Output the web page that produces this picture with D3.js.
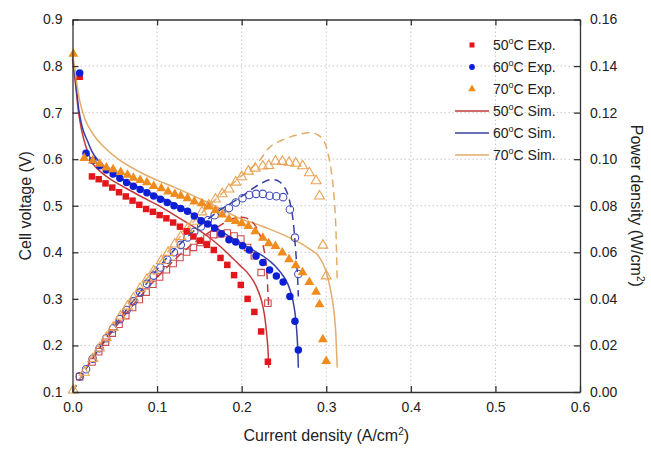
<!DOCTYPE html>
<html>
<head>
<meta charset="utf-8">
<script src="https://cdn.jsdelivr.net/npm/d3@7"></script>
<style>
  body { margin: 0; background: #fff; }
  text { font-family: "Liberation Sans", Arial, sans-serif; }
</style>
</head>
<body>
<div id="chart"></div>
<script>
// experimental data: current density (A/cm2), voltage (V), power (W/cm2)
const expI50 = [0.0085, 0.023, 0.031, 0.039, 0.047, 0.055, 0.063, 0.071, 0.079, 0.087, 0.095, 0.103, 0.111, 0.119, 0.127, 0.135, 0.143, 0.151, 0.159, 0.167, 0.175, 0.183, 0.191, 0.199, 0.207, 0.215, 0.223, 0.231];
const expV50 = [0.777, 0.563, 0.557, 0.548, 0.539, 0.529, 0.520, 0.511, 0.502, 0.493, 0.487, 0.480, 0.473, 0.464, 0.455, 0.445, 0.434, 0.425, 0.416, 0.405, 0.388, 0.373, 0.351, 0.330, 0.300, 0.272, 0.230, 0.165];
const expP50 = [0.0066, 0.0129, 0.0173, 0.0214, 0.0253, 0.0291, 0.0328, 0.0363, 0.0397, 0.0429, 0.0463, 0.0494, 0.0525, 0.0552, 0.0578, 0.0601, 0.0621, 0.0642, 0.0661, 0.0676, 0.0679, 0.0683, 0.0670, 0.0657, 0.0621, 0.0585, 0.0513, 0.0381];

const expI60 = [0.0085, 0.016, 0.024, 0.032, 0.040, 0.048, 0.056, 0.064, 0.072, 0.080, 0.088, 0.096, 0.104, 0.112, 0.120, 0.128, 0.136, 0.144, 0.152, 0.160, 0.168, 0.176, 0.185, 0.193, 0.201, 0.209, 0.217, 0.225, 0.233, 0.241, 0.249, 0.257, 0.263, 0.267];
const expV60 = [0.785, 0.613, 0.597, 0.586, 0.577, 0.568, 0.559, 0.550, 0.542, 0.535, 0.528, 0.521, 0.514, 0.507, 0.500, 0.494, 0.488, 0.478, 0.468, 0.461, 0.452, 0.440, 0.427, 0.422, 0.414, 0.405, 0.392, 0.378, 0.362, 0.349, 0.336, 0.305, 0.252, 0.190];
const expP60 = [0.0067, 0.0098, 0.0143, 0.0188, 0.0231, 0.0273, 0.0313, 0.0352, 0.0390, 0.0428, 0.0465, 0.0500, 0.0535, 0.0568, 0.0600, 0.0632, 0.0664, 0.0688, 0.0711, 0.0738, 0.0759, 0.0774, 0.0790, 0.0814, 0.0832, 0.0846, 0.0851, 0.0851, 0.0843, 0.0841, 0.0837, 0.0784, 0.0663, 0.0507];

const expI70 = [0.001, 0.014, 0.024, 0.032, 0.040, 0.048, 0.057, 0.065, 0.072, 0.080, 0.088, 0.096, 0.105, 0.113, 0.121, 0.128, 0.136, 0.144, 0.153, 0.161, 0.169, 0.177, 0.185, 0.193, 0.200, 0.208, 0.216, 0.225, 0.232, 0.240, 0.248, 0.256, 0.264, 0.272, 0.280, 0.288, 0.292, 0.296, 0.300];
const expV70 = [0.826, 0.602, 0.597, 0.590, 0.582, 0.578, 0.572, 0.566, 0.560, 0.555, 0.550, 0.542, 0.537, 0.530, 0.525, 0.521, 0.516, 0.509, 0.505, 0.498, 0.490, 0.481, 0.471, 0.467, 0.462, 0.456, 0.445, 0.431, 0.419, 0.413, 0.399, 0.385, 0.372, 0.357, 0.336, 0.315, 0.288, 0.213, 0.166];
const expP70 = [0.0008, 0.0084, 0.0143, 0.0189, 0.0233, 0.0277, 0.0326, 0.0368, 0.0403, 0.0444, 0.0484, 0.0520, 0.0564, 0.0599, 0.0635, 0.0667, 0.0702, 0.0733, 0.0773, 0.0802, 0.0828, 0.0851, 0.0871, 0.0901, 0.0924, 0.0948, 0.0961, 0.0970, 0.0972, 0.0991, 0.0990, 0.0986, 0.0982, 0.0971, 0.0941, 0.0907, 0.0841, 0.0630, 0.0498];

// simulation: polarization curves
const simI50 = [0, 0.003, 0.008, 0.013, 0.018, 0.025, 0.04, 0.054, 0.064, 0.08, 0.104, 0.125, 0.143, 0.16, 0.175, 0.19, 0.198, 0.206, 0.214, 0.22, 0.224, 0.227, 0.229, 0.231, 0.232];
const simV50 = [0.815, 0.77, 0.69, 0.645, 0.616, 0.588, 0.563, 0.547, 0.537, 0.521, 0.498, 0.475, 0.455, 0.434, 0.412, 0.386, 0.372, 0.358, 0.338, 0.315, 0.292, 0.265, 0.235, 0.195, 0.152];
const simI60 = [0, 0.003, 0.008, 0.013, 0.018, 0.025, 0.04, 0.054, 0.064, 0.08, 0.104, 0.125, 0.143, 0.165, 0.183, 0.2, 0.215, 0.226, 0.234, 0.242, 0.25, 0.255, 0.259, 0.262, 0.264, 0.266, 0.267];
const simV60 = [0.82, 0.78, 0.70, 0.66, 0.638, 0.61, 0.58, 0.562, 0.553, 0.538, 0.518, 0.50, 0.481, 0.458, 0.437, 0.419, 0.403, 0.391, 0.38, 0.366, 0.347, 0.33, 0.308, 0.283, 0.255, 0.205, 0.152];
const simI70 = [0, 0.003, 0.008, 0.013, 0.018, 0.025, 0.034, 0.054, 0.08, 0.1, 0.12, 0.14, 0.16, 0.18, 0.2, 0.21, 0.23, 0.25, 0.27, 0.282, 0.289, 0.294, 0.299, 0.303, 0.306, 0.309, 0.311, 0.312, 0.313];
const simV70 = [0.83, 0.79, 0.73, 0.695, 0.673, 0.652, 0.632, 0.60, 0.572, 0.555, 0.54, 0.524, 0.507, 0.489, 0.471, 0.465, 0.452, 0.437, 0.419, 0.405, 0.396, 0.383, 0.363, 0.337, 0.31, 0.275, 0.235, 0.195, 0.152];

// simulation: power curves
const simPI50 = [0, 0.02, 0.05, 0.08, 0.11, 0.14, 0.17, 0.19, 0.205, 0.215, 0.222, 0.227, 0.23, 0.231, 0.232];
const simP50 = [0, 0.0122, 0.0275, 0.041, 0.053, 0.063, 0.0705, 0.0745, 0.0748, 0.072, 0.067, 0.060, 0.050, 0.043, 0.036];
const simPI60 = [0, 0.02, 0.05, 0.08, 0.11, 0.14, 0.17, 0.2, 0.22, 0.234, 0.244, 0.252, 0.258, 0.261, 0.264, 0.266, 0.267];
const simP60 = [0, 0.0125, 0.0285, 0.043, 0.057, 0.068, 0.077, 0.084, 0.089, 0.0912, 0.0905, 0.087, 0.080, 0.073, 0.060, 0.050, 0.041];
const simPI70 = [0, 0.02, 0.05, 0.08, 0.11, 0.14, 0.17, 0.2, 0.22, 0.234, 0.25, 0.265, 0.28, 0.29, 0.297, 0.303, 0.307, 0.309, 0.311, 0.312, 0.313];
const simP70 = [0, 0.013, 0.030, 0.045, 0.059, 0.072, 0.083, 0.093, 0.099, 0.1054, 0.1085, 0.1104, 0.1114, 0.1105, 0.108, 0.101, 0.092, 0.085, 0.074, 0.062, 0.047];

const xTicks = [0, 0.1, 0.2, 0.3, 0.4, 0.5, 0.6];
const vTicks = [0.1, 0.2, 0.3, 0.4, 0.5, 0.6, 0.7, 0.8, 0.9];
const pTicks = [0, 0.02, 0.04, 0.06, 0.08, 0.10, 0.12, 0.14, 0.16];
const legendLabels = ["50", "60", "70"];

const margin = {top: 19.5, right: 71, bottom: 58, left: 72.5},
    W = 651, H = 450,
    width = W - margin.left - margin.right,
    height = H - margin.top - margin.bottom;

const svg = d3.select("#chart").append("svg")
    .attr("width", W).attr("height", H);
const g = svg.append("g").attr("transform", `translate(${margin.left},${margin.top})`);

const x = d3.scaleLinear().domain([0, 0.6]).range([0, width]);
const yV = d3.scaleLinear().domain([0.1, 0.9]).range([height, 0]);
const yP = d3.scaleLinear().domain([0, 0.16]).range([height, 0]);

// dotted grid
g.append("g").selectAll("line").data(xTicks.slice(1, -1)).join("line")
    .attr("x1", d => x(d)).attr("x2", d => x(d)).attr("y1", 0).attr("y2", height)
    .attr("stroke", "#c8c8c8").attr("stroke-dasharray", "1.5,2.5");
g.append("g").selectAll("line").data(vTicks.slice(1, -1)).join("line")
    .attr("y1", d => yV(d)).attr("y2", d => yV(d)).attr("x1", 0).attr("x2", width)
    .attr("stroke", "#c8c8c8").attr("stroke-dasharray", "1.5,2.5");

// colours
const colExp = ["#e3171b", "#0d1fd6", "#f08c1e"];
const colHol = ["#cf4a4e", "#4550b8", "#e9a254"];
const colSim = ["#c23a3a", "#363fa6", "#e2ad68"];

const lineV = d3.line().x(d => x(d[0])).y(d => yV(d[1])).curve(d3.curveCatmullRom.alpha(0.5));
const lineP = d3.line().x(d => x(d[0])).y(d => yP(d[1])).curve(d3.curveCatmullRom.alpha(0.5));

const simV = [d3.zip(simI50, simV50), d3.zip(simI60, simV60), d3.zip(simI70, simV70)];
const simP = [d3.zip(simPI50, simP50), d3.zip(simPI60, simP60), d3.zip(simPI70, simP70)];
const expV = [d3.zip(expI50, expV50), d3.zip(expI60, expV60), d3.zip(expI70, expV70)];
const expP = [d3.zip(expI50, expP50), d3.zip(expI60, expP60), d3.zip(expI70, expP70)];

const shapes = [d3.symbolSquare, d3.symbolCircle, d3.symbolTriangle];
const sizes = [42, 44, 42];

// simulation lines
simV.forEach((s, k) => {
    g.append("path").datum(s).attr("d", lineV)
        .attr("fill", "none").attr("stroke", colSim[k]).attr("stroke-width", 1.5);
});
simP.forEach((s, k) => {
    g.append("path").datum(s).attr("d", lineP)
        .attr("fill", "none").attr("stroke", colSim[k]).attr("stroke-width", 1.5)
        .attr("stroke-dasharray", "8,5");
});

// experimental markers: hollow for power, filled for voltage
expP.forEach((s, k) => {
    g.append("g").selectAll("path").data(s).join("path")
        .attr("transform", d => `translate(${x(d[0])},${yP(d[1])})`)
        .attr("d", d3.symbol().type(shapes[k]).size(sizes[k]))
        .attr("fill", "none").attr("stroke", colHol[k]).attr("stroke-width", 1.1);
});
expV.forEach((s, k) => {
    g.append("g").selectAll("path").data(s).join("path")
        .attr("transform", d => `translate(${x(d[0])},${yV(d[1])})`)
        .attr("d", d3.symbol().type(shapes[k]).size(sizes[k]))
        .attr("fill", colExp[k]);
});

// axes, ticks pointing inward
const axisCol = "#333";
const gx = g.append("g").attr("transform", `translate(0,${height})`)
    .call(d3.axisBottom(x).tickValues(xTicks).tickFormat(d3.format(".1f")).tickSizeInner(-6).tickSizeOuter(0).tickPadding(10));
const gxTop = g.append("g")
    .call(d3.axisTop(x).tickValues(xTicks).tickFormat("").tickSizeInner(-6).tickSizeOuter(0));
const gy = g.append("g")
    .call(d3.axisLeft(yV).tickValues(vTicks).tickFormat(d3.format(".1f")).tickSizeInner(-6).tickSizeOuter(0).tickPadding(10));
const gyR = g.append("g").attr("transform", `translate(${width},0)`)
    .call(d3.axisRight(yP).tickValues(pTicks).tickFormat(d3.format(".2f")).tickSizeInner(-6).tickSizeOuter(0).tickPadding(10));
[gx, gxTop, gy, gyR].forEach(a => {
    a.selectAll("path, line").attr("stroke", axisCol).attr("stroke-width", 1.3);
    a.selectAll("text").attr("fill", "#222").style("font-size", "14px")
        .style("font-family", '"Liberation Sans", Arial, sans-serif');
});

// axis titles
svg.append("text")
    .attr("x", margin.left + width / 2).attr("y", 441)
    .attr("text-anchor", "middle").style("font-size", "16px").attr("fill", "#222")
    .call(t => {
        t.append("tspan").text("Current density (A/cm");
        t.append("tspan").attr("dy", -6).style("font-size", "10px").text("2");
        t.append("tspan").attr("dy", 6).text(")");
    });
svg.append("text")
    .attr("transform", `translate(31,${margin.top + height / 2}) rotate(-90)`)
    .attr("text-anchor", "middle").style("font-size", "16px").attr("fill", "#222")
    .text("Cell voltage (V)");
svg.append("text")
    .attr("transform", `translate(631,${margin.top + height / 2}) rotate(90)`)
    .attr("text-anchor", "middle").style("font-size", "16px").attr("fill", "#222")
    .call(t => {
        t.append("tspan").text("Power density (W/cm");
        t.append("tspan").attr("dy", -6).style("font-size", "10px").text("2");
        t.append("tspan").attr("dy", 6).text(")");
    });

// legend
const leg = svg.append("g");
const rowY = d => 45 + d * 22;
const legendText = (sel, temp, kind) => {
    sel.append("tspan").text(temp);
    sel.append("tspan").attr("dy", -6).style("font-size", "9px").text("o");
    sel.append("tspan").attr("dy", 6).text("C " + kind);
};
legendLabels.forEach((lab, k) => {
    leg.append("path")
        .attr("transform", `translate(472,${rowY(k)})`)
        .attr("d", d3.symbol().type(shapes[k]).size(sizes[k] * 0.6))
        .attr("fill", colExp[k]);
    leg.append("text").attr("x", 493).attr("y", rowY(k) + 5)
        .style("font-size", "14px").attr("fill", "#222")
        .call(t => legendText(t, lab, "Exp."));
});
legendLabels.forEach((lab, k) => {
    const yy = rowY(k + 3);
    leg.append("line").attr("x1", 455).attr("x2", 489).attr("y1", yy).attr("y2", yy)
        .attr("stroke", colSim[k]).attr("stroke-width", 1.5);
    leg.append("text").attr("x", 493).attr("y", yy + 5)
        .style("font-size", "14px").attr("fill", "#222")
        .call(t => legendText(t, lab, "Sim."));
});
</script>
</body>
</html>
